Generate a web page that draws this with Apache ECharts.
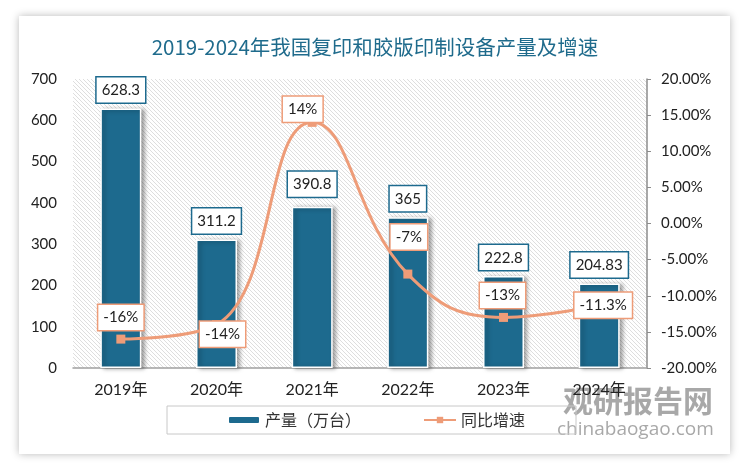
<!DOCTYPE html>
<html><head><meta charset="utf-8">
<script src="https://cdn.jsdelivr.net/npm/echarts@6/dist/echarts.min.js"></script>
<style>
html,body{margin:0;padding:0;background:#ffffff;}
#card{position:absolute;left:19px;top:16px;width:711px;height:438px;background:#fff;box-shadow:0 0 8px rgba(0,0,0,0.28);}
#chart{position:absolute;left:0;top:0;width:750px;height:471px;}
</style></head>
<body>
<div id="card"></div>
<div id="chart"></div>
<script>
const titleText = '2019-2024年我国复印和胶版印制设备产量及增速';
const categories = ['2019年','2020年','2021年','2022年','2023年','2024年'];
const outputValues = [628.3, 311.2, 390.8, 365, 222.8, 204.83];
const growthValues = [-16, -14, 14, -7, -13, -11.3];
const leftTicks = {min:0, max:700, interval:100};
const rightTicks = {min:-20, max:20, interval:5};
const seriesNames = ['产量（万台）','同比增速'];

// label style offsets (presentation only)
const lineLabelOffsets = [[0,-21.5],[6,9.5],[-9.5,-13],[1,-37],[-1,-22],[4,0]];
const barLabelDistances = [6,6,10,6,6,6];

const BLUE = '#1d6a8e';
const ORANGE = '#ee9c78';
const FONT = 'Lato, "Noto Sans CJK SC", sans-serif';

function hatch(){
  const n = 4, c = document.createElement('canvas');
  c.width = n; c.height = n;
  const g = c.getContext('2d');
  g.fillStyle = '#ffffff'; g.fillRect(0,0,n,n);
  g.strokeStyle = '#dadada'; g.lineWidth = 0.9;
  g.beginPath();
  g.moveTo(0,0); g.lineTo(n,n);
  g.moveTo(-1,n-1); g.lineTo(1,n+1);
  g.moveTo(n-1,-1); g.lineTo(n+1,1);
  g.stroke();
  return c;
}

const chart = echarts.init(document.getElementById('chart'), null, {renderer:'canvas'});
chart.setOption({
  backgroundColor: 'transparent',
  animation: false,
  title: {
    text: titleText, left: 'center', top: 32,
    textStyle: {color: '#1f6b8c', fontSize: 20.5, fontWeight: 'normal', fontFamily: '"Noto Sans CJK SC", sans-serif'}
  },
  grid: {
    left: 73, right: 103, top: 79, bottom: 103,
    show: true, borderWidth: 0,
    backgroundColor: {image: hatch(), repeat: 'repeat'}
  },
  legend: {
    data: seriesNames,
    left: 167, top: 406,
    padding: [6, 51, 6, 60],
    itemGap: 62, itemWidth: 32, itemHeight: 8,
    borderColor: '#c8c8c8', borderWidth: 1,
    textStyle: {fontSize: 16, color: '#333', fontFamily: '"Noto Sans CJK SC", sans-serif'}
  },
  xAxis: {
    type: 'category', data: categories,
    axisLine: {show: true, lineStyle: {color: '#a0a0a0', width: 1.5}},
    axisTick: {show: false},
    axisLabel: {color: '#222', fontSize: 16, margin: 14, fontFamily: FONT}
  },
  yAxis: [
    {
      type: 'value', min: leftTicks.min, max: leftTicks.max, interval: leftTicks.interval,
      axisLine: {show: false}, axisTick: {show: false}, splitLine: {show: false},
      axisLabel: {color: '#222', fontSize: 15, margin: 16, fontFamily: FONT}
    },
    {
      type: 'value', min: rightTicks.min, max: rightTicks.max, interval: rightTicks.interval,
      position: 'right',
      axisLine: {show: true, lineStyle: {color: '#8c8c8c', width: 1.5}},
      axisTick: {show: true, length: 4, lineStyle: {color: '#8c8c8c'}},
      splitLine: {show: false},
      axisLabel: {color: '#222', fontSize: 15, margin: 14, fontFamily: FONT,
        formatter: v => v.toFixed(2) + '%'}
    }
  ],
  series: [
    {
      name: seriesNames[0], type: 'bar', yAxisIndex: 0, barWidth: 41,
      data: outputValues.map((v,i) => ({value: v, label: {distance: barLabelDistances[i]}})),
      itemStyle: {color: BLUE, borderColor: '#ffffff', borderWidth: 1.5,
        shadowColor: 'rgba(0,0,0,0.35)', shadowBlur: 4, shadowOffsetX: 3, shadowOffsetY: 1},
      label: {
        show: true, position: 'top', color: '#222', fontSize: 15, lineHeight: 18,
        fontFamily: FONT, backgroundColor: '#fff', borderColor: BLUE, borderWidth: 1.5,
        padding: [4, 5, 3, 5]
      }
    },
    {
      name: seriesNames[1], type: 'line', yAxisIndex: 1, smooth: 0.45,
      data: growthValues.map((v,i) => ({value: v, label: {offset: lineLabelOffsets[i]}})),
      symbol: 'rect', symbolSize: 9,
      lineStyle: {color: ORANGE, width: 3},
      itemStyle: {color: ORANGE},
      label: {
        show: true, position: 'inside', color: '#222', fontSize: 15, lineHeight: 18,
        fontFamily: FONT, backgroundColor: '#fff', borderColor: ORANGE, borderWidth: 1.5,
        padding: [4, 5, 3, 5], formatter: p => p.value + '%'
      },
      z: 5
    }
  ],
  graphic: [
    {type: 'text', left: 563, top: 386, silent: true,
      style: {text: '观研报告网', fontSize: 30, fontWeight: 'bold', fontFamily: '"Noto Sans CJK SC", sans-serif', fill: 'rgba(110,110,110,0.6)'}},
    {type: 'text', left: 557, top: 420, silent: true,
      style: {text: 'chinabaogao.com', fontSize: 19, fontFamily: '"Open Sans", sans-serif', fill: 'rgba(110,110,110,0.6)'}}
  ]
});
</script>
</body></html>
